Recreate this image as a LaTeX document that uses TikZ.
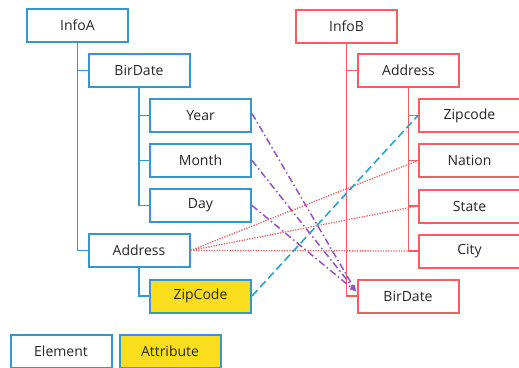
\documentclass[tikz,border=0pt]{standalone}
\usepackage{fontspec}
\setmainfont{Open Sans}
\usetikzlibrary{arrows.meta}
\definecolor{bl}{RGB}{52,152,204}
\definecolor{rd}{RGB}{240,96,96}
\definecolor{yl}{RGB}{250,222,30}
\definecolor{pu}{RGB}{150,80,200}
\definecolor{cy}{RGB}{40,165,200}
\tikzset{
  box/.style={minimum width=101pt,minimum height=33pt,inner sep=0pt,line width=2pt,fill=white,text=black!85,font=\fontsize{14}{16}\selectfont},
  ebox/.style={box,draw=bl},
  abox/.style={box,draw=bl,fill=yl},
  rbox/.style={box,draw=rd},
  btree/.style={draw=bl,line width=1.6pt},
  rtree/.style={draw=rd,line width=1.6pt},
  purp/.style={draw=pu,line width=1.5pt,dash pattern=on 7pt off 3pt on 1.5pt off 3pt,-{Latex[length=7pt,width=5pt]}},
  reddot/.style={draw=rd,line width=1.3pt,dash pattern=on 1.3pt off 1.3pt},
  cyd/.style={draw=cy,line width=1.6pt,dash pattern=on 8pt off 4pt},
}
\begin{document}
\begin{tikzpicture}[x=1pt,y=-1pt]
\useasboundingbox (0,0) rectangle (519,367);
% left tree
\node[ebox] (InfoA) at (77.5,25.5) {InfoA};
\node[ebox] (BirA) at (139,70.5) {BirDate};
\node[ebox] (Year) at (200.5,115.5) {Year};
\node[ebox] (Month) at (200.5,160.5) {Month};
\node[ebox] (Day) at (200.5,205.5) {Day};
\node[ebox] (AddrA) at (139,250.5) {Address};
\node[abox] (ZipA) at (200.5,296) {ZipCode};
\node[ebox] (Element) at (61,351.5) {Element};
\node[abox] (Attribute) at (170,351.5) {Attribute};
% right tree
\node[rbox] (InfoB) at (346.5,26) {InfoB};
\node[rbox] (AddrB) at (408.5,70.5) {Address};
\node[rbox] (ZipB) at (469.5,115.5) {Zipcode};
\node[rbox] (Nation) at (469.5,160.5) {Nation};
\node[rbox] (State) at (469.5,206) {State};
\node[rbox] (City) at (469.5,251) {City};
\node[rbox] (BirB) at (408,296) {BirDate};
% tree lines
\draw[btree] (InfoA.south) |- (AddrA.west);
\draw[btree] (InfoA.south |- BirA.west) -- (BirA.west);
\draw[btree] (BirA.south) |- (Day.west);
\draw[btree] (BirA.south |- Year.west) -- (Year.west);
\draw[btree] (BirA.south |- Month.west) -- (Month.west);
\draw[btree] (AddrA.south) |- (ZipA.west);
\draw[rtree] (InfoB.south) |- (BirB.west);
\draw[rtree] (InfoB.south |- AddrB.west) -- (AddrB.west);
\draw[rtree] (AddrB.south) |- (City.west);
\draw[rtree] (AddrB.south |- ZipB.west) -- (ZipB.west);
\draw[rtree] (AddrB.south |- Nation.west) -- (Nation.west);
\draw[rtree] (AddrB.south |- State.west) -- (State.west);
% mappings
\coordinate (tgt) at ([yshift=4pt]BirB.west);
\draw[purp] ([yshift=2pt]Year.east) -- (tgt);
\draw[purp] (Month.east) -- (tgt);
\draw[purp] (Day.east) -- (tgt);
\draw[reddot] (AddrA.east) -- (Nation.west);
\draw[reddot] (AddrA.east) -- (State.west);
\draw[reddot] (AddrA.east) -- (City.west);
\draw[cyd] (ZipA.east) -- (ZipB.west);
\end{tikzpicture}
\end{document}
